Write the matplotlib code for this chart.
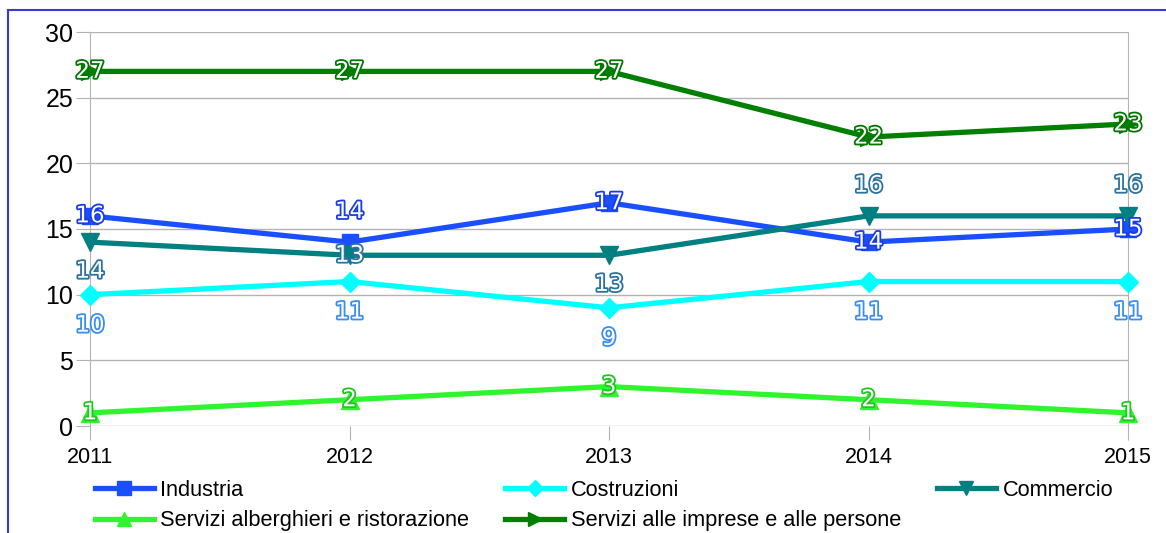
import numpy as np
import matplotlib.pyplot as plt
import matplotlib.patheffects as pe
from matplotlib.patches import Rectangle

# data
years = [2011, 2012, 2013, 2014, 2015]
industria = [16, 14, 17, 14, 15]
costruzioni = [10, 11, 9, 11, 11]
commercio = [14, 13, 13, 16, 16]
alberghieri = [1, 2, 3, 2, 1]
imprese = [27, 27, 27, 22, 23]

names = ['Industria', 'Costruzioni', 'Commercio',
         'Servizi alberghieri e ristorazione', 'Servizi alle imprese e alle persone']
series = [industria, costruzioni, commercio, alberghieri, imprese]

# styles
colors = ['#1a4fff', '#00ffff', '#008080', '#2ef52e', '#007f00']
label_colors = ['#1a3ce8', '#3a8ef0', '#2a72a0', '#1ec81e', '#007700']
markers = ['s', 'D', 'v', '^', '>']
msizes = [12, 10, 13, 13, 13]
# label vertical offsets (points) for each point of each series
offsets = [
    [0, 22, 0, 0, 0],
    [-22, -22, -22, -22, -22],
    [-21, 0, -21, 22, 22],
    [0, 0, 0, 0, 0],
    [0, 0, 0, 0, 0],
]

plt.rcParams['font.family'] = ['Liberation Sans', 'DejaVu Sans']

fig = plt.figure(figsize=(11.66, 5.33), dpi=100)
ax = fig.add_axes([90 / 1166, 1 - 426 / 533, (1128 - 90) / 1166, (426 - 32) / 533])

lines = []
for i in range(5):
    ln, = ax.plot(years, series[i], color=colors[i], lw=3.8, marker=markers[i],
                  ms=msizes[i], mec=colors[i], mfc=colors[i], label=names[i],
                  solid_joinstyle='miter', zorder=3, clip_on=False)
    lines.append(ln)

for i in range(5):
    for j, (x, y) in enumerate(zip(years, series[i])):
        ax.annotate(str(y), (x, y), xytext=(0, offsets[i][j]), textcoords='offset points',
                    ha='center', va='center', fontsize=16.5, family='DejaVu Sans',
                    color='white', zorder=5, annotation_clip=False,
                    path_effects=[pe.Stroke(linewidth=2.6, foreground=label_colors[i]),
                                  pe.Normal()])

ax.set_xlim(2011, 2015)
ax.set_ylim(0, 30)
ax.set_xticks(years)
ax.set_yticks(range(0, 31, 5))
ax.yaxis.grid(True, color='#b3b3b3', lw=1)
ax.set_axisbelow(True)
for s in ['top', 'bottom']:
    ax.spines[s].set_visible(False)
for s in ['left', 'right']:
    ax.spines[s].set_color('#b3b3b3')
ax.tick_params(axis='y', length=10, color='#b3b3b3', labelsize=18, pad=2)
ax.tick_params(axis='x', length=10, color='#b3b3b3', labelsize=15.5, pad=5)

order = [0, 3, 1, 4, 2]
leg_h = 0.08
fig.legend([lines[k] for k in order], [names[k] for k in order], ncol=3, mode='expand',
           loc='upper left',
           bbox_to_anchor=(95 / 1166, 1 - 480 / 533 - leg_h, (1113 - 95) / 1166, leg_h),
           frameon=False, fontsize=15.7, handlelength=2.7, handletextpad=0.3,
           borderpad=0, borderaxespad=0, labelspacing=0.42, markerscale=0.8)

fig.add_artist(Rectangle((8 / 1166, -0.1), 1.2, 1.1 - 10 / 533, transform=fig.transFigure,
                         fill=False, edgecolor='#3a3acc', lw=1.5, clip_on=False))

fig.savefig('out.png', dpi=100)
